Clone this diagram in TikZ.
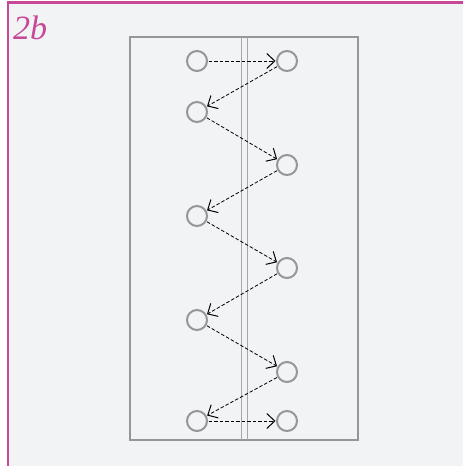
\documentclass[tikz,border=0pt]{standalone}
\usepackage{fontspec}
\setmainfont{Liberation Serif}
\usetikzlibrary{arrows.meta}
\definecolor{bgc}{RGB}{242,243,245}
\definecolor{mag}{RGB}{200,72,152}
\definecolor{gr}{RGB}{150,150,150}
\begin{document}
\begin{tikzpicture}[x=1pt,y=-1pt,
  hole/.style={circle,draw=gr,line width=2pt,minimum size=20pt,inner sep=0pt},
  link/.style={dash pattern=on 3.5pt off 2pt,line width=0.8pt,-{Straight Barb[length=8pt,width=15pt,line width=1pt]},shorten <=0.5pt,shorten >=0.5pt}]
\useasboundingbox (0,0) rectangle (463,466);
\fill[white] (0,0) rectangle (463,466);
\fill[bgc] (8,2.5) rectangle (463,466);
\draw[mag,line width=2.6pt] (8,466) -- (8,2.5) -- (463,2.5);
\node[mag,font=\itshape\fontsize{34}{36}\selectfont,anchor=base west,inner sep=0pt] (lbl) at (13,39) {2b};
\draw[gr,line width=2pt] (130,37) rectangle (358,440);
\draw[gr!85,line width=0.9pt] (241,37) -- (241,440) (247,37) -- (247,440);
\node[hole] (l1) at (197,61) {};
\node[hole] (r1) at (287,61) {};
\node[hole] (l2) at (197,112) {};
\node[hole] (r2) at (287,165) {};
\node[hole] (l3) at (197,216) {};
\node[hole] (r3) at (287,268) {};
\node[hole] (l4) at (197,320) {};
\node[hole] (r4) at (287,372) {};
\node[hole] (l5) at (197,421) {};
\node[hole] (r5) at (287,421) {};
\draw[link] (l1) -- (r1);
\draw[link] (r1) -- (l2);
\draw[link] (l2) -- (r2);
\draw[link] (r2) -- (l3);
\draw[link] (l3) -- (r3);
\draw[link] (r3) -- (l4);
\draw[link] (l4) -- (r4);
\draw[link] (r4) -- (l5);
\draw[link] (l5) -- (r5);
\end{tikzpicture}
\end{document}
